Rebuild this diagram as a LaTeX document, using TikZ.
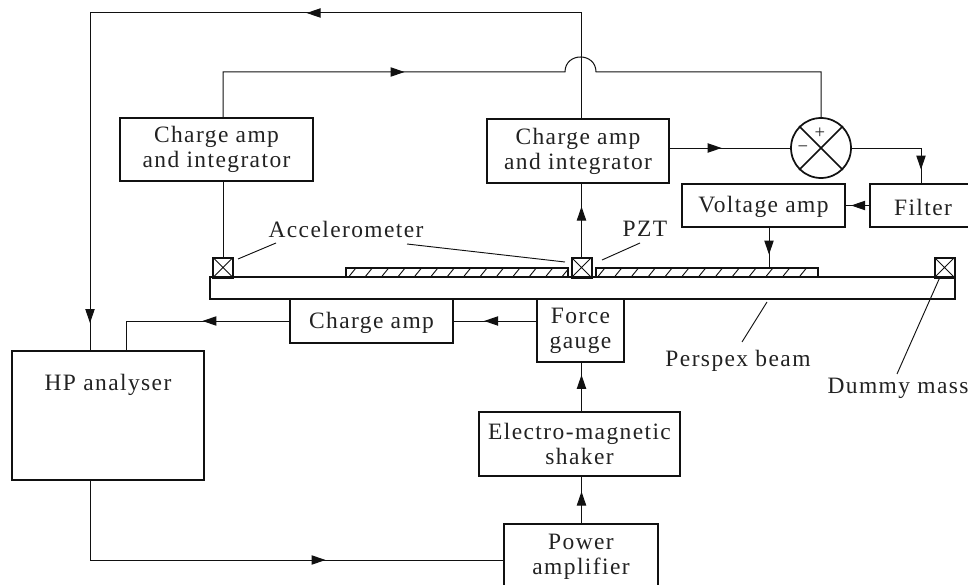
\documentclass[tikz,border=0pt]{standalone}
\usepackage{fontspec}
\setmainfont[LetterSpace=6]{Liberation Serif}
\usetikzlibrary{arrows.meta,decorations.markings}
\definecolor{ink}{HTML}{111111}
\definecolor{txt}{HTML}{222222}
\tikzset{
  mytip/.tip={Triangle[length=10.5pt,width=7pt]},
  bx/.style 2 args={draw=ink,line width=1.3pt,inner sep=0pt,align=center,text=txt,
    minimum width=#1*0.75pt,minimum height=#2*0.75pt,
    execute at begin node={\rule{0pt}{15pt}},
    font=\fontsize{17.6}{18.8}\selectfont},
  lab/.style={text=txt,inner sep=0pt,font=\fontsize{17.6}{18.8}\selectfont},
  conn/.style={draw=ink,line width=0.75pt},
  lead/.style={draw=ink,line width=0.7pt},
  arrowat/.style={postaction={decorate},decoration={markings,mark=at position #1 with {\arrow{mytip}}}},
  twoarrows/.style 2 args={postaction={decorate},decoration={markings,
     mark=at position #1 with {\arrow{mytip}},mark=at position #2 with {\arrow{mytip}}}},
  sensor/.style={draw=ink,line width=1.5pt,inner sep=0pt,minimum size=15pt,
    path picture={\draw[line width=0.55pt,draw=ink] (path picture bounding box.south west)--(path picture bounding box.north east)
      (path picture bounding box.north west)--(path picture bounding box.south east);}},
  pzt/.style={draw=ink,line width=1.1pt,inner sep=0pt,minimum height=6.8pt,minimum width=#1*0.75pt},
  hatch/.style={draw=ink,line width=0.7pt}
}
\begin{document}
\begin{tikzpicture}[x=0.75pt,y=-0.75pt]
\useasboundingbox (0,0) rectangle (968,585);
\clip (0,0) rectangle (968,585);
% boxes
\node[bx={745}{22}] (beam) at (582.5,288) {};
\node[bx={193}{63}] (ca1) at (216.5,149.5) {Charge amp\\and integrator};
\node[bx={181.5}{64}] (ca2) at (578,151) {Charge amp\\and integrator};
\node[bx={163}{43}] (vamp) at (763.5,205.5) {Voltage amp};
\node[bx={106}{43}] (filter) at (923,205.5) {Filter};
\node[bx={163}{44}] (champ) at (371.5,321) {Charge amp};
\node[bx={87}{63}] (fg) at (580.5,330.5) {Force\\gauge};
\node[bx={201}{64}] (shaker) at (579.5,444) {Electro-magnetic\\shaker};
\node[bx={154}{66}] (pa) at (581,557) {Power\\amplifier};
\node[bx={192}{129}] (hp) at (108,415.5) {};
\node[lab] (hptext) at (108,385) {HP analyser};
% sensors
\node[sensor] (s1) at (223,267.5) {};
\node[sensor] (s2) at (581.5,267.5) {};
\node[sensor] (s3) at (944.5,267.5) {};
% PZT layers
\node[pzt=222] (p1) at (457,272.5) {};
\node[pzt=222] (p2) at (707,272.5) {};
\foreach \x in {0,...,13} {
  \draw[hatch] ({349+\x*16.4},276.5) -- ({355.5+\x*16.4},268.5);
  \ifnum\x<13 \draw[hatch] ({598+\x*16.8},276.5) -- ({604.5+\x*16.8},268.5);\fi
}
% summing junction
\node[circle,draw=ink,line width=1.3pt,minimum size=45pt,inner sep=0pt] (sum) at (821,148) {};
\draw[draw=ink,line width=1.3pt] (sum.45) -- (sum.225) (sum.135) -- (sum.315);
\node[lab,font=\fontsize{14}{14}\selectfont] (plus) at (820,133) {+};
\node[lab,font=\fontsize{14}{14}\selectfont] (minus) at (803,149) {\char"2212};
% connectors
\coordinate (humpa) at (565,72);
\coordinate (humpb) at (596,72);
\draw[conn,twoarrows={285pt}{680pt}] (ca2.north -| s2) -- (s2.north |- 0,13) -- (90,13) -- (hp.north -| 90,0);
\draw[conn] (s1.north) -- (s1.north |- ca1.south);
\draw[conn,arrowat=170pt] (ca1.north -| s1) -- (s1.north |- humpa) -- (humpa)
  .. controls (565,52) and (596,52) .. (humpb) -- (sum.north |- humpb) -- (sum.north);
\draw[conn,arrowat=-17pt] (s2.north) -- (s2.north |- ca2.south);
\draw[conn,arrowat=39pt] (ca2.east |- sum.west) -- (sum.west);
\draw[conn,arrowat=68pt] (sum.east) -| (filter.north -| 921,0);
\draw[conn,arrowat=13.5pt] (filter.west) -- (vamp.east);
\draw[conn,arrowat=20pt] (vamp.south -| 769,0) -- (769,268);
\draw[conn,arrowat=39pt] (fg.west |- champ.east) -- (champ.east);
\draw[conn,arrowat=65pt] (champ.west) -| (hp.north -| 126,0);
\draw[conn,arrowat=-9pt] (shaker.north -| s2) -- (fg.south -| s2);
\draw[conn,arrowat=-11pt] (pa.north -| s2) -- (shaker.south -| s2);
\draw[conn,arrowat=236pt] (hp.south -| 90,0) |- (pa.west |- 0,560);
% leaders and labels
\node[lab] (lacc) at (346,229) {Accelerometer};
\node[lab] (lpzt) at (645,229) {PZT};
\node[lab] (lbeam) at (738,361) {Perspex beam};
\node[lab] (ldum) at (898,388) {Dummy mass};
\coordinate (a1) at (238,259); \coordinate (a2) at (276,243);
\coordinate (a3) at (407,244); \coordinate (a4) at (565,262);
\coordinate (z1) at (602,260); \coordinate (z2) at (640,243);
\coordinate (b1) at (767,302); \coordinate (b2) at (742,342);
\coordinate (d1) at (940,277); \coordinate (d2) at (897,374);
\draw[lead] (a1) -- (a2);
\draw[lead] (a3) -- (a4);
\draw[lead] (z1) -- (z2);
\draw[lead] (b1) -- (b2);
\draw[lead] (d1) -- (d2);
\end{tikzpicture}
\end{document}
